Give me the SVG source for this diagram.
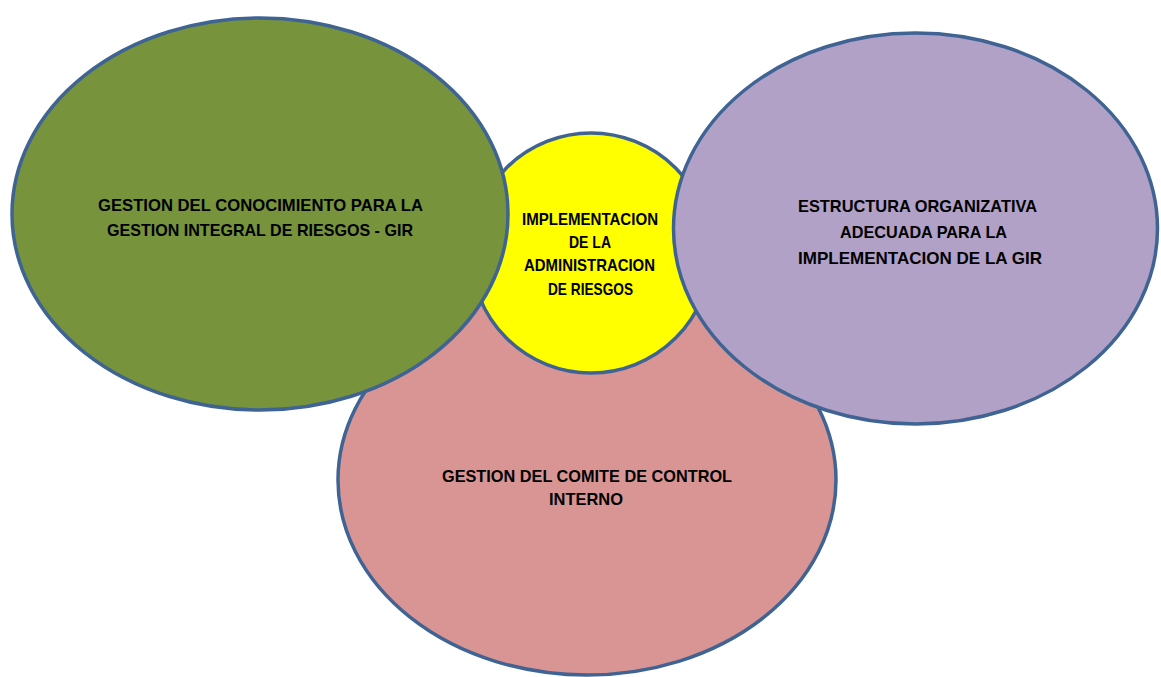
<svg xmlns="http://www.w3.org/2000/svg" width="1161" height="677" viewBox="0 0 1161 677">
<style>
.shape{stroke:#3F6494;stroke-width:3.5}
.lbl{font-family:"Liberation Sans",Arial,sans-serif;font-weight:bold;font-size:17px;fill:#000}
</style>
<rect width="1161" height="677" fill="#ffffff"/>
<g id="connectors"/>
<g id="node-comite">
<ellipse class="shape" cx="587" cy="480" rx="249" ry="195" fill="#D99594"/>
<text class="lbl" x="442" y="481.5" textLength="290" lengthAdjust="spacingAndGlyphs">GESTION DEL COMITE DE CONTROL</text>
<text class="lbl" x="549" y="505" textLength="74" lengthAdjust="spacingAndGlyphs">INTERNO</text>
</g>
<g id="node-implementacion">
<circle class="shape" cx="591" cy="253" r="120" fill="#FFFF00"/>
<text class="lbl" x="522" y="225" textLength="136" lengthAdjust="spacingAndGlyphs">IMPLEMENTACION</text>
<text class="lbl" x="569" y="248" textLength="42" lengthAdjust="spacingAndGlyphs">DE LA</text>
<text class="lbl" x="524" y="271" textLength="131" lengthAdjust="spacingAndGlyphs">ADMINISTRACION</text>
<text class="lbl" x="548" y="295" textLength="85" lengthAdjust="spacingAndGlyphs">DE RIESGOS</text>
</g>
<g id="node-conocimiento">
<ellipse class="shape" cx="260" cy="214" rx="248" ry="196" fill="#77933C"/>
<text class="lbl" x="98" y="211" textLength="325" lengthAdjust="spacingAndGlyphs">GESTION DEL CONOCIMIENTO PARA LA</text>
<text class="lbl" x="107" y="236" textLength="306" lengthAdjust="spacingAndGlyphs">GESTION INTEGRAL DE RIESGOS - GIR</text>
</g>
<g id="node-estructura">
<ellipse class="shape" cx="915.5" cy="228.5" rx="242" ry="195.5" fill="#B2A1C7"/>
<text class="lbl" x="798" y="211.5" textLength="239" lengthAdjust="spacingAndGlyphs">ESTRUCTURA ORGANIZATIVA</text>
<text class="lbl" x="840" y="237.5" textLength="167" lengthAdjust="spacingAndGlyphs">ADECUADA PARA LA</text>
<text class="lbl" x="798" y="263.5" textLength="244" lengthAdjust="spacingAndGlyphs">IMPLEMENTACION DE LA GIR</text>
</g>
</svg>
